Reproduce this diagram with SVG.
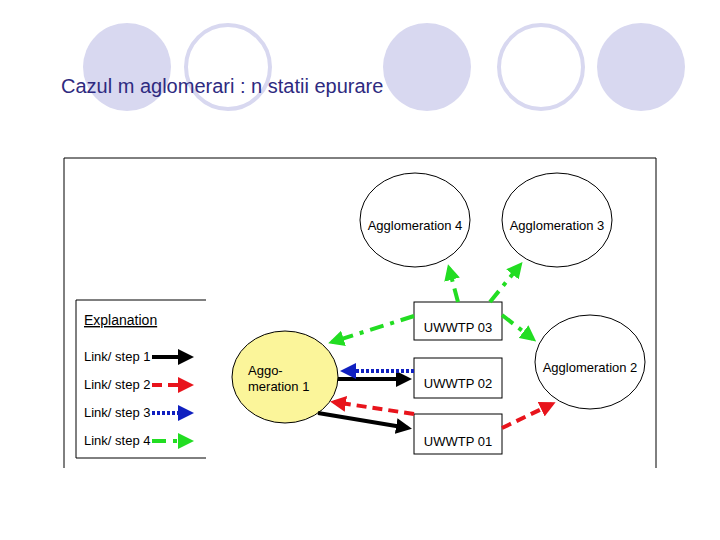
<svg xmlns="http://www.w3.org/2000/svg" width="720" height="540" viewBox="0 0 720 540">
<style>
text{font-family:"Liberation Sans",Arial,sans-serif}
.bg{fill:#d8d8f0}.bgo{fill:none;stroke:#d8d8f0;stroke-width:4}
.lbl{font-size:13px;fill:#000}
.box{fill:#fff;stroke:#000;stroke-width:1}
.ell{fill:#fff;stroke:#000;stroke-width:1}
.k{stroke:#000;stroke-width:4;fill:none}
.r{stroke:#e8141c;stroke-width:4;stroke-dasharray:10,6;fill:none}
.b{stroke:#1020c0;stroke-width:4;stroke-dasharray:3,2;fill:none}
.g{stroke:#22dd22;stroke-width:4;stroke-dasharray:14,7,4,7;fill:none}
</style>
<defs>
<marker id="mk" markerWidth="4" markerHeight="4" refX="3" refY="2" orient="auto"><path d="M0,0L4,2L0,4z" fill="#000"/></marker>
<marker id="mr" markerWidth="4" markerHeight="4" refX="3" refY="2" orient="auto"><path d="M0,0L4,2L0,4z" fill="#e8141c"/></marker>
<marker id="mb" markerWidth="4" markerHeight="4" refX="3" refY="2" orient="auto"><path d="M0,0L4,2L0,4z" fill="#1020c0"/></marker>
<marker id="mg" markerWidth="4" markerHeight="4" refX="3" refY="2" orient="auto"><path d="M0,0L4,2L0,4z" fill="#22dd22"/></marker>
</defs>
<rect width="720" height="540" fill="#fff"/>
<circle class="bg" cx="127" cy="67" r="44"/>
<circle class="bgo" cx="228" cy="67" r="42"/>
<circle class="bg" cx="427" cy="67" r="44"/>
<circle class="bgo" cx="541" cy="67" r="42"/>
<circle class="bg" cx="641" cy="67" r="44"/>
<text x="61" y="93" font-size="20" fill="#2e2a80">Cazul m aglomerari : n statii epurare</text>
<path d="M64,468V158H656V468" fill="none" stroke="#000" stroke-width="1"/>
<g id="legend">
<path d="M206,300H76V458H206" fill="none" stroke="#000" stroke-width="1"/>
<text x="84" y="325" font-size="14" text-decoration="underline">Explanation</text>
<text class="lbl" x="84" y="361" font-size="12">Link/ step 1</text>
<text class="lbl" x="84" y="389" font-size="12">Link/ step 2</text>
<text class="lbl" x="84" y="417" font-size="12">Link/ step 3</text>
<text class="lbl" x="84" y="445" font-size="12">Link/ step 4</text>
<line class="k" x1="152" y1="357" x2="190" y2="357" marker-end="url(#mk)"/>
<line class="r" x1="152" y1="385" x2="190" y2="385" marker-end="url(#mr)"/>
<line class="b" x1="152" y1="413" x2="190" y2="413" marker-end="url(#mb)"/>
<line class="g" x1="152" y1="441" x2="190" y2="441" marker-end="url(#mg)"/>
</g>
<g id="a1"><ellipse cx="285" cy="377" rx="53" ry="46" fill="#fbf59a" stroke="#000"/><text class="lbl" x="248" y="375" font-size="12">Aggo-</text><text class="lbl" x="248" y="391" font-size="12">meration 1</text></g>
<g id="a4"><ellipse class="ell" cx="415" cy="220" rx="55" ry="47"/><text class="lbl" x="415" y="230" text-anchor="middle">Agglomeration 4</text></g>
<g id="a3"><ellipse class="ell" cx="557" cy="220" rx="55" ry="47"/><text class="lbl" x="557" y="230" text-anchor="middle">Agglomeration 3</text></g>
<g id="a2"><ellipse class="ell" cx="590" cy="362" rx="55" ry="47"/><text class="lbl" x="590" y="372" text-anchor="middle">Agglomeration 2</text></g>
<g id="u3"><rect class="box" x="414" y="302" width="88" height="38"/><text class="lbl" x="458" y="332" text-anchor="middle">UWWTP 03</text></g>
<g id="u2"><rect class="box" x="414" y="358" width="88" height="40"/><text class="lbl" x="458" y="388" text-anchor="middle">UWWTP 02</text></g>
<g id="u1"><rect class="box" x="414" y="414" width="88" height="40"/><text class="lbl" x="458" y="446" text-anchor="middle">UWWTP 01</text></g>
<g id="connectors">
<line class="k" x1="338" y1="379" x2="408" y2="379" marker-end="url(#mk)"/>
<line class="k" x1="318" y1="413" x2="408" y2="428" marker-end="url(#mk)"/>
<line class="b" x1="414" y1="371" x2="344" y2="371" marker-end="url(#mb)"/>
<line class="r" x1="414" y1="414" x2="334" y2="402" marker-end="url(#mr)"/>
<line class="r" x1="502" y1="428" x2="552" y2="404" marker-end="url(#mr)"/>
<line class="g" x1="414" y1="316" x2="332" y2="342" marker-end="url(#mg)"/>
<line class="g" x1="458" y1="302" x2="449" y2="268" marker-end="url(#mg)"/>
<line class="g" x1="490" y1="302" x2="520" y2="265" marker-end="url(#mg)"/>
<line class="g" x1="502" y1="315" x2="533" y2="339" marker-end="url(#mg)"/>
</g>
</svg>
